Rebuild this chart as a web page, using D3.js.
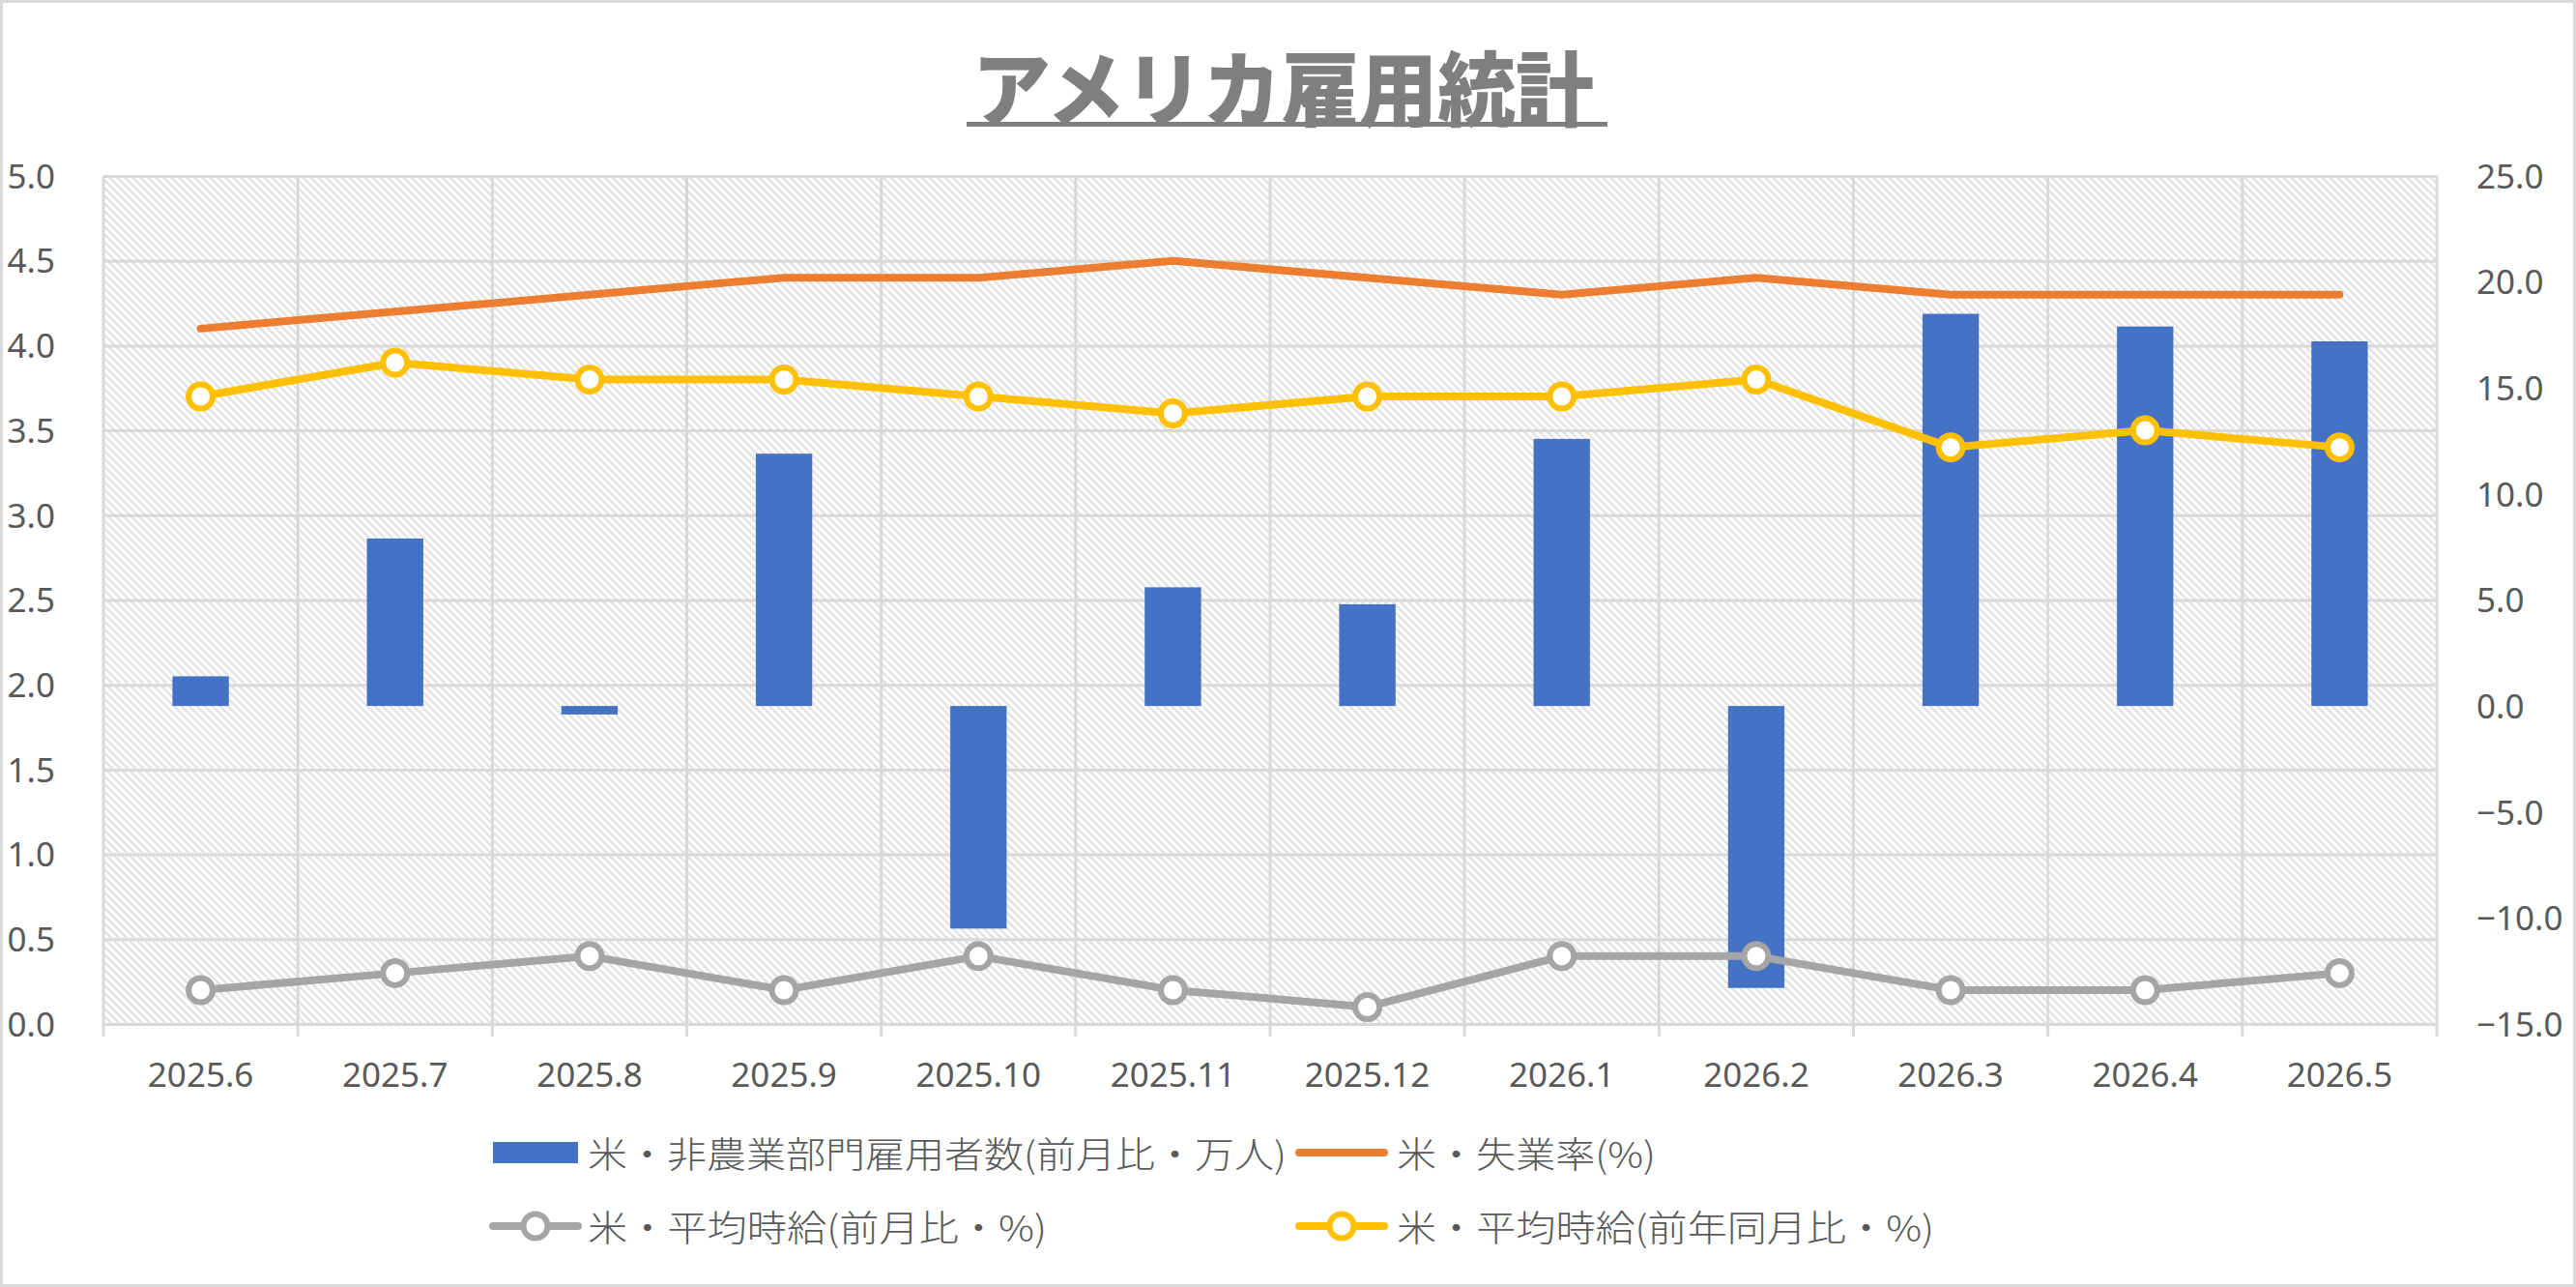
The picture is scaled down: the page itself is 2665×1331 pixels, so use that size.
<!DOCTYPE html>
<html><head><meta charset="utf-8">
<script src="https://cdn.jsdelivr.net/npm/d3@7/dist/d3.min.js"></script>
<style>
html,body{margin:0;padding:0;background:#fff;}
svg{display:block;}
</style></head>
<body>
<svg id="chart" width="2665" height="1331"></svg>
<script>
// ---- data ----
const title = "アメリカ雇用統計";
const categories = ["2025.6","2025.7","2025.8","2025.9","2025.10","2025.11","2025.12","2026.1","2026.2","2026.3","2026.4","2026.5"];
const payrolls = [1.4, 7.9, -0.4, 11.9, -10.5, 5.6, 4.8, 12.6, -13.3, 18.5, 17.9, 17.2];     // 万人 (right axis)
const unemployment = [4.1, 4.2, 4.3, 4.4, 4.4, 4.5, 4.4, 4.3, 4.4, 4.3, 4.3, 4.3];           // % (left axis)
const wageMoM = [0.2, 0.3, 0.4, 0.2, 0.4, 0.2, 0.1, 0.4, 0.4, 0.2, 0.2, 0.3];                // %
const wageYoY = [3.7, 3.9, 3.8, 3.8, 3.7, 3.6, 3.7, 3.7, 3.8, 3.4, 3.5, 3.4];                // %
const leftTicks = [0, 0.5, 1, 1.5, 2, 2.5, 3, 3.5, 4, 4.5, 5];
const rightTicks = [-15, -10, -5, 0, 5, 10, 15, 20, 25];
const seriesNames = ["米・非農業部門雇用者数(前月比・万人)", "米・失業率(%)", "米・平均時給(前月比・%)", "米・平均時給(前年同月比・%)"];

// ---- layout ----
const W = 2665, H = 1331;
const plot = {l: 107, r: 2521, t: 182, b: 1059};
const colors = {bar: "#4472C4", unemp: "#ED7D31", mom: "#A5A5A5", yoy: "#FFC000", grid: "#D9D9D9", text: "#595959", title: "#7F7F7F"};
const svg = d3.select("#chart");

const x = d3.scaleBand().domain(categories).range([plot.l, plot.r]).padding(0);
const yL = d3.scaleLinear().domain([0, 5]).range([plot.b, plot.t]);
const yR = d3.scaleLinear().domain([-15, 25]).range([plot.b, plot.t]);
const bw = x.bandwidth();
const cx = c => x(c) + bw / 2;

// pattern
const defs = svg.append("defs");
const pat = defs.append("pattern").attr("id", "hatch").attr("patternUnits", "userSpaceOnUse")
  .attr("width", 5.66).attr("height", 5.66).attr("patternTransform", "rotate(-45)");
pat.append("rect").attr("width", 5.66).attr("height", 5.66).attr("fill", "#fff");
pat.append("rect").attr("x", 0).attr("y", 0).attr("width", 2.4).attr("height", 5.66).attr("fill", "#E2E2E2");

// outer border
svg.append("rect").attr("x", 1.5).attr("y", 1.5).attr("width", W - 3).attr("height", H - 3)
  .attr("fill", "#fff").attr("stroke", colors.grid).attr("stroke-width", 3);

// title
const tg = svg.append("g");
tg.append("text").text(title)
  .attr("x", 1006).attr("y", 87)
  .attr("dominant-baseline", "central")
  .attr("textLength", 643).attr("lengthAdjust", "spacingAndGlyphs")
  .style("font-family", "'Noto Sans CJK JP'").style("font-weight", 900)
  .style("font-size", "84px").attr("fill", colors.title);
tg.append("rect").attr("x", 1000).attr("y", 126).attr("width", 663).attr("height", 5).attr("fill", colors.title);

// plot background
svg.append("rect").attr("x", plot.l).attr("y", plot.t).attr("width", plot.r - plot.l).attr("height", plot.b - plot.t)
  .attr("fill", "url(#hatch)");

// horizontal gridlines
svg.append("g").attr("transform", `translate(${plot.l},0)`)
  .call(d3.axisLeft(yL).tickValues(leftTicks).tickSize(-(plot.r - plot.l)).tickFormat(""))
  .call(g => g.select(".domain").remove())
  .call(g => g.selectAll("line").attr("stroke", colors.grid).attr("stroke-width", 3));

// vertical gridlines + ticks at category boundaries
const bounds = categories.map(c => x(c)).concat([plot.r]);
svg.append("g").selectAll("line").data(bounds).join("line")
  .attr("x1", d => d).attr("x2", d => d).attr("y1", plot.t).attr("y2", plot.b + 13)
  .attr("stroke", colors.grid).attr("stroke-width", 3);

// left axis labels
const fontNum = "'Noto Sans', 'Open Sans', sans-serif";
svg.append("g").attr("transform", `translate(${plot.l},0)`)
  .call(d3.axisLeft(yL).tickValues(leftTicks).tickFormat(d3.format(".1f")).tickSize(0).tickPadding(50))
  .call(g => g.select(".domain").remove())
  .call(g => g.selectAll("text").attr("fill", colors.text).style("font-family", fontNum).style("font-size", "35px").attr("dy", "0.35em"));

// right axis labels
svg.append("g").attr("transform", `translate(${plot.r},0)`)
  .call(d3.axisRight(yR).tickValues(rightTicks).tickFormat(d3.format(".1f")).tickSize(0).tickPadding(41))
  .call(g => g.select(".domain").remove())
  .call(g => g.selectAll("text").attr("fill", colors.text).style("font-family", fontNum).style("font-size", "35px").attr("dy", "0.35em"));

// x axis labels
svg.append("g").attr("transform", `translate(0,${plot.b})`)
  .call(d3.axisBottom(x).tickSize(0).tickPadding(0))
  .call(g => g.select(".domain").remove())
  .call(g => g.selectAll("text").attr("fill", colors.text).style("font-family", fontNum).style("font-size", "35px")
     .attr("y", 53).attr("dy", "0.35em"));

// bars (secondary axis)
const barW = bw * 0.29;
svg.append("g").selectAll("rect").data(payrolls).join("rect")
  .attr("x", (d, i) => cx(categories[i]) - barW / 2)
  .attr("width", barW)
  .attr("y", d => Math.min(yR(d), yR(0)))
  .attr("height", d => Math.abs(yR(d) - yR(0)))
  .attr("fill", colors.bar);

// lines
const line = d3.line().x((d, i) => cx(categories[i])).y(d => yL(d));
function drawLine(vals, color, markers) {
  svg.append("path").datum(vals).attr("d", line).attr("fill", "none")
    .attr("stroke", color).attr("stroke-width", 8).attr("stroke-linejoin", "round").attr("stroke-linecap", "round");
  if (markers) {
    svg.append("g").selectAll("circle").data(vals).join("circle")
      .attr("cx", (d, i) => cx(categories[i])).attr("cy", d => yL(d)).attr("r", 12.5)
      .attr("fill", "#fff").attr("stroke", color).attr("stroke-width", 6);
  }
}
drawLine(unemployment, colors.unemp, false);
drawLine(wageMoM, colors.mom, true);
drawLine(wageYoY, colors.yoy, true);

// legend
const lg = svg.append("g");
const legendFont = "'Noto Sans CJK JP', sans-serif";
const legendItems = [
  {name: seriesNames[0], type: "bar", color: colors.bar, sx: 510, tx: 608, y: 1192, len: 723},
  {name: seriesNames[1], type: "line", color: colors.unemp, sx: 1344, tx: 1445, y: 1192, len: 268},
  {name: seriesNames[2], type: "marker", color: colors.mom, sx: 510, tx: 608, y: 1268, len: 475},
  {name: seriesNames[3], type: "marker", color: colors.yoy, sx: 1344, tx: 1445, y: 1268, len: 556}
];
legendItems.forEach(it => {
  if (it.type === "bar") {
    lg.append("rect").attr("x", it.sx).attr("y", it.y - 11).attr("width", 88).attr("height", 22).attr("fill", it.color);
  } else {
    lg.append("line").attr("x1", it.sx).attr("x2", it.sx + 88).attr("y1", it.y).attr("y2", it.y)
      .attr("stroke", it.color).attr("stroke-width", 8).attr("stroke-linecap", "round");
    if (it.type === "marker") {
      lg.append("circle").attr("cx", it.sx + 44).attr("cy", it.y).attr("r", 12.5)
        .attr("fill", "#fff").attr("stroke", it.color).attr("stroke-width", 6);
    }
  }
  lg.append("text").text(it.name).attr("x", it.tx).attr("y", it.y).attr("dominant-baseline", "central")
    .attr("textLength", it.len).attr("lengthAdjust", "spacingAndGlyphs")
    .style("font-family", legendFont).style("font-size", "37px").style("font-weight", 300).attr("fill", colors.text);
});
</script>
</body></html>
